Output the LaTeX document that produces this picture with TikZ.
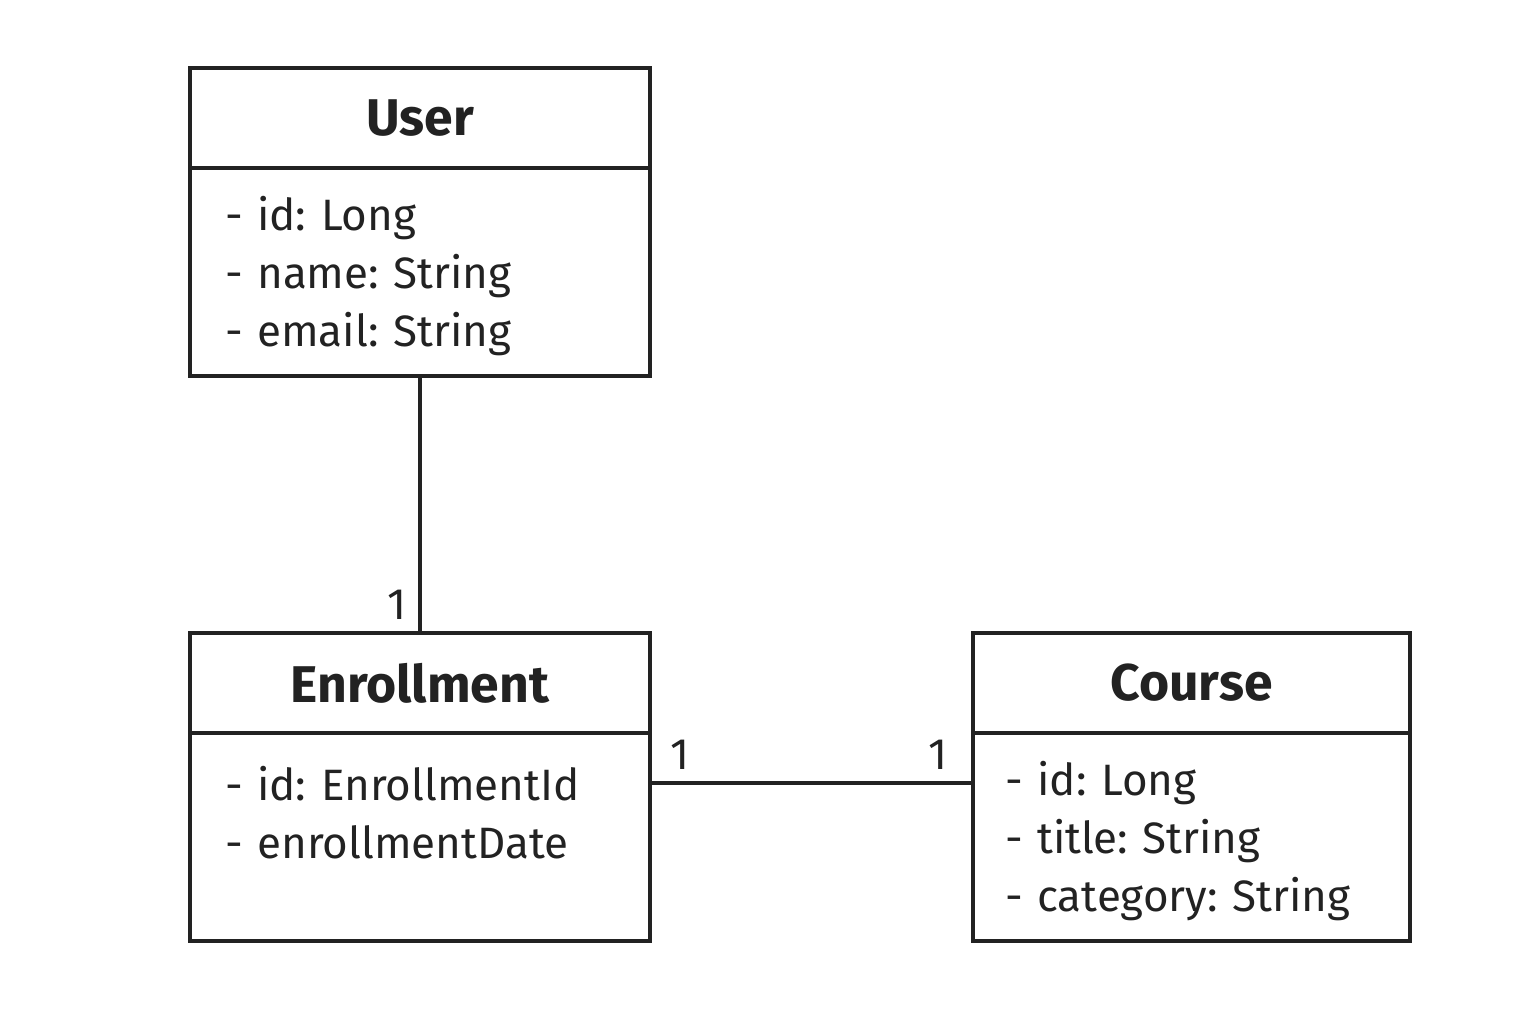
\documentclass[tikz,border=0pt]{standalone}
\usepackage{fontspec}
\setmainfont{Fira Sans}
\usepackage{xcolor}
\usepackage{tikz}
\usetikzlibrary{positioning, calc}
\frenchspacing
\definecolor{umlink}{HTML}{222222}
\tikzstyle{classhead} = [rectangle, draw=umlink, line width=0.9pt, outer sep=0pt, minimum width=4.6cm, minimum height=1cm, text=umlink, font=\fontsize{14.7}{17}\selectfont\bfseries]
\tikzstyle{classbody} = [rectangle, draw=umlink, line width=0.9pt, outer sep=0pt, minimum width=4.6cm, minimum height=2.08cm, inner xsep=0.35cm, text width=3.9cm, align=left, text=umlink, font=\fontsize{12.5}{16.5}\selectfont, execute at begin node={\rule{0pt}{12pt}}]
\tikzstyle{link} = [draw=umlink, line width=0.9pt]
\tikzstyle{mult} = [text=umlink, font=\fontsize{12.5}{14}\selectfont]

\begin{document}
\begin{tikzpicture}
  \useasboundingbox (0,0) rectangle (15.36,10.24);
  \node (userhead) [classhead] at (4.2,9.06) {User};
  \node (userbody) [classbody, below=0pt of userhead] {- id: Long\\- name: String\\- email: String};
  \node (enrollhead) [classhead] at (4.2,3.41) {Enrollment};
  \node (enrollbody) [classbody, below=0pt of enrollhead] {- id: EnrollmentId\\- enrollmentDate\\\mbox{}};
  \node (coursehead) [classhead, minimum width=4.37cm] at (11.915,3.41) {Course};
  \node (coursebody) [classbody, below=0pt of coursehead, minimum width=4.37cm, inner xsep=0.32cm, text width=3.73cm] {- id: Long\\- title: String\\- category: String};
  \draw[link] (userbody.south) -- (enrollhead.north) node[mult, pos=1, above left] {1};
  \draw[link] ([yshift=-0.5cm]enrollbody.north east) -- ([yshift=-0.5cm]coursebody.north west)
    node[mult, pos=0, above right, xshift=0.07cm] {1}
    node[mult, pos=1, above left, xshift=-0.12cm] {1};
\end{tikzpicture}
\end{document}
